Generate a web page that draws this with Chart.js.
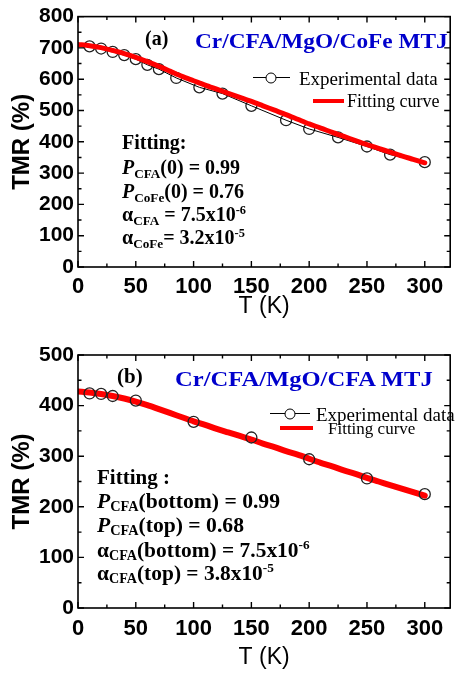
<!DOCTYPE html>
<html>
<head>
<meta charset="utf-8">
<script src="https://cdn.jsdelivr.net/npm/chart.js@4.4.1/dist/chart.umd.min.js"></script>
<style>
  html, body { margin:0; padding:0; background:#fff; }
  body { width:457px; height:675px; position:relative; overflow:hidden; }
  .cv { position:absolute; left:0; }
  .t { position:absolute; white-space:nowrap; font-family:"Liberation Serif","Times New Roman",serif; color:#000; transform:translateY(-50%); transform-origin:left center; line-height:1; }
  .b { font-weight:bold; }
  .blue { color:#0000cc; font-weight:bold; }
  .t sub { font-size:66%; vertical-align:-0.28em; line-height:0; }
  .t sup { font-size:62%; vertical-align:0.55em; line-height:0; }
  .lline { position:absolute; height:0; }
  .lcirc { position:absolute; width:9px; height:9px; border:1.3px solid #000; border-radius:50%; background:#fff; transform:translate(-50%,-50%); }
</style>
</head>
<body>
<canvas id="cA" class="cv" width="457" height="322" style="top:0"></canvas>
<canvas id="cB" class="cv" width="457" height="353" style="top:322px"></canvas>

<!-- panel (a) annotations -->
<div class="t b" style="left:145px; top:38px; font-size:20px;">(a)</div>
<div class="t blue" style="left:195px; top:41px; font-size:21px; transform:translateY(-50%) scaleX(1.11);">Cr/CFA/MgO/CoFe MTJ</div>
<div class="lline" style="left:253px; top:77px; width:37px; border-top:1.2px solid #000;"></div>
<div class="lcirc" style="left:271px; top:77.5px;"></div>
<div class="t" style="left:299px; top:78px; font-size:19px;">Experimental data</div>
<div class="lline" style="left:313px; top:99px; width:31px; border-top:4px solid #ff0000;"></div>
<div class="t" style="left:347px; top:101px; font-size:18px;">Fitting curve</div>
<div class="t b" style="left:122px; top:142px; font-size:20px;">Fitting:</div>
<div class="t b" style="left:122px; top:167px; font-size:20px;"><i>P</i><sub>CFA</sub>(0) = 0.99</div>
<div class="t b" style="left:122px; top:191px; font-size:20px;"><i>P</i><sub>CoFe</sub>(0) = 0.76</div>
<div class="t b" style="left:122px; top:214px; font-size:20px;">α<sub>CFA</sub> = 7.5x10<sup>-6</sup></div>
<div class="t b" style="left:122px; top:237px; font-size:20px;">α<sub>CoFe</sub>= 3.2x10<sup>-5</sup></div>

<!-- panel (b) annotations -->
<div class="t b" style="left:117px; top:376px; font-size:21px;">(b)</div>
<div class="t blue" style="left:175px; top:379px; font-size:21px; transform:translateY(-50%) scaleX(1.17);">Cr/CFA/MgO/CFA MTJ</div>
<div class="lline" style="left:270px; top:413px; width:40px; border-top:1.2px solid #000;"></div>
<div class="lcirc" style="left:290px; top:413.5px;"></div>
<div class="t" style="left:316px; top:414px; font-size:19px;">Experimental data</div>
<div class="lline" style="left:280px; top:426px; width:33px; border-top:4px solid #ff0000;"></div>
<div class="t" style="left:328px; top:428px; font-size:17px;">Fitting curve</div>
<div class="t b" style="left:97px; top:477px; font-size:21px;">Fitting :</div>
<div class="t b" style="left:97px; top:501px; font-size:21px; transform:translateY(-50%) scaleX(1.03);"><i>P</i><sub>CFA</sub>(bottom) = 0.99</div>
<div class="t b" style="left:97px; top:525px; font-size:21px; transform:translateY(-50%) scaleX(1.03);"><i>P</i><sub>CFA</sub>(top) = 0.68</div>
<div class="t b" style="left:97px; top:550px; font-size:21px; transform:translateY(-50%) scaleX(1.02);">α<sub>CFA</sub>(bottom) = 7.5x10<sup>-6</sup></div>
<div class="t b" style="left:97px; top:573px; font-size:21px; transform:translateY(-50%) scaleX(1.02);">α<sub>CFA</sub>(top) = 3.8x10<sup>-5</sup></div>

<script>
// ---------- data: panel (a) Cr/CFA/MgO/CoFe MTJ ----------
const expTempA = [10, 20, 30, 40, 50, 60, 70, 85, 105, 125, 150, 180, 200, 225, 250, 270, 300];
const expTmrA  = [705, 698, 687, 677, 664, 646, 632, 604, 574, 554, 515, 469, 441, 414, 385, 359, 335];
const fitTempA = [0,10,20,30,40,50,60,70,80,90,100,110,120,130,140,150,160,170,180,190,200,210,220,230,240,250,260,270,280,290,300];
const fitTmrA  = [711,707,701,692,682,670,656,641,625,609,595,581,568,555,542,529,515,501,487,472,457,444,430,417,404,391,379,367,355,344,333];
const yTicksA  = [0,100,200,300,400,500,600,700,800];

// ---------- data: panel (b) Cr/CFA/MgO/CFA MTJ ----------
const expTempB = [10, 20, 30, 50, 100, 150, 200, 250, 300];
const expTmrB  = [424, 423, 419, 410, 368, 337, 294, 256, 225];
const fitTempB = [0,10,20,30,40,50,60,70,80,90,100,110,120,130,140,150,160,170,180,190,200,210,220,230,240,250,260,270,280,290,300];
const fitTmrB  = [428,426,423,419,414,408,401,393,385,377,369,362,354,347,340,333,325,318,310,303,295,287,280,272,265,257,250,243,236,229,222];
const yTicksB  = [0,100,200,300,400,500];

const xTicks = [0,50,100,150,200,250,300];
const xMinorTicks = [25,75,125,175,225,275];

const SANS = "'Liberation Sans', Arial, sans-serif";

const framePlugin = {
  id:'frame',
  afterDatasetsDraw(chart, args, opts) {
    const {ctx, chartArea:a, scales:{x, y}} = chart;
    ctx.save();
    ctx.strokeStyle = '#000';
    ctx.lineWidth = 1.6;
    ctx.strokeRect(a.left, a.top, a.right - a.left, a.bottom - a.top);
    ctx.lineWidth = 1.4;
    ctx.beginPath();
    const tick = (vals, len, horiz) => {
      vals.forEach(v => {
        if (horiz) {
          const px = x.getPixelForValue(v);
          ctx.moveTo(px, a.bottom); ctx.lineTo(px, a.bottom - len);
          ctx.moveTo(px, a.top); ctx.lineTo(px, a.top + len);
        } else {
          const py = y.getPixelForValue(v);
          ctx.moveTo(a.left, py); ctx.lineTo(a.left + len, py);
          ctx.moveTo(a.right, py); ctx.lineTo(a.right - len, py);
        }
      });
    };
    tick(xTicks, 6, true);
    tick(xMinorTicks, 3.5, true);
    tick(opts.yMajor, 6, false);
    tick(opts.yMinor, 3.5, false);
    ctx.stroke();
    ctx.restore();
  }
};

function makeChart(id, cfg) {
  const toPts = (xs, ys) => xs.map((t, i) => ({x:t, y:ys[i]}));
  const yMinor = cfg.yTicks.slice(0, -1).map((v, i) => (v + cfg.yTicks[i+1]) / 2);
  const datasets = [
    { // experimental connecting line (below the fit)
      label:'Experimental data', data: toPts(cfg.expT, cfg.expV),
      borderColor:'#000', borderWidth:1, pointRadius:0, tension:0, order:3
    },
    { // fitting curve
      label:'Fitting curve', data: toPts(cfg.fitT, cfg.fitV),
      borderColor:'#ff0000', borderWidth:cfg.fitW, pointRadius:0, tension:0.3,
      borderCapStyle:'round', order:2
    },
    { // experimental markers
      label:'Experimental data markers', data: toPts(cfg.expT, cfg.expV),
      showLine:false, pointRadius:5.5, pointBorderWidth:1.3,
      pointBorderColor:'#222', pointBackgroundColor:'rgba(255,255,255,0)', order:cfg.markOrder
    }
  ];
  return new Chart(document.getElementById(id), {
    type:'line',
    data:{ datasets },
    options:{
      responsive:false, animation:false, devicePixelRatio:1,
      layout:{ padding:{ top:cfg.padTop, left:0, right:1, bottom:0 } },
      plugins:{ legend:{display:false}, tooltip:{enabled:false}, frame:{ yMajor:cfg.yTicks, yMinor } },
      scales:{
        x:{
          type:'linear', min:0, max:322,
          afterBuildTicks: s => { s.ticks = xTicks.map(v => ({value:v})); },
          afterFit: s => { s.height = cfg.xH; },
          grid:{ display:false, drawTicks:false }, border:{ display:false },
          ticks:{ padding:cfg.xPad, color:'#000', maxRotation:0, autoSkip:false,
                  font:{ family:SANS, size:22, weight:'bold' } },
          title:{ display:true, text:'T (K)', color:'#000', padding:{top:0, bottom:cfg.xTitlePad},
                  font:{ family:SANS, size:23 } }
        },
        y:{
          type:'linear', min:0, max:cfg.yTicks[cfg.yTicks.length-1],
          afterBuildTicks: s => { s.ticks = cfg.yTicks.map(v => ({value:v})); },
          afterFit: s => { s.width = 78; },
          grid:{ display:false, drawTicks:false }, border:{ display:false },
          ticks:{ padding:4, color:'#000', autoSkip:false,
                  font:{ family:SANS, size:21, weight:'bold' } },
          title:{ display:true, text:'TMR (%)', color:'#000', padding:{top:8, bottom:0},
                  font:{ family:SANS, size:24, weight:'bold' } }
        }
      }
    },
    plugins:[framePlugin]
  });
}

makeChart('cA', { expT:expTempA, expV:expTmrA, fitT:fitTempA, fitV:fitTmrA, yTicks:yTicksA,
                  padTop:13, xH:55, xPad:7, xTitlePad:2, fitW:5, markOrder:4 });
makeChart('cB', { expT:expTempB, expV:expTmrB, fitT:fitTempB, fitV:fitTmrB, yTicks:yTicksB,
                  padTop:33, xH:67, xPad:8, xTitlePad:4, fitW:6, markOrder:1 });
</script>
</body>
</html>
